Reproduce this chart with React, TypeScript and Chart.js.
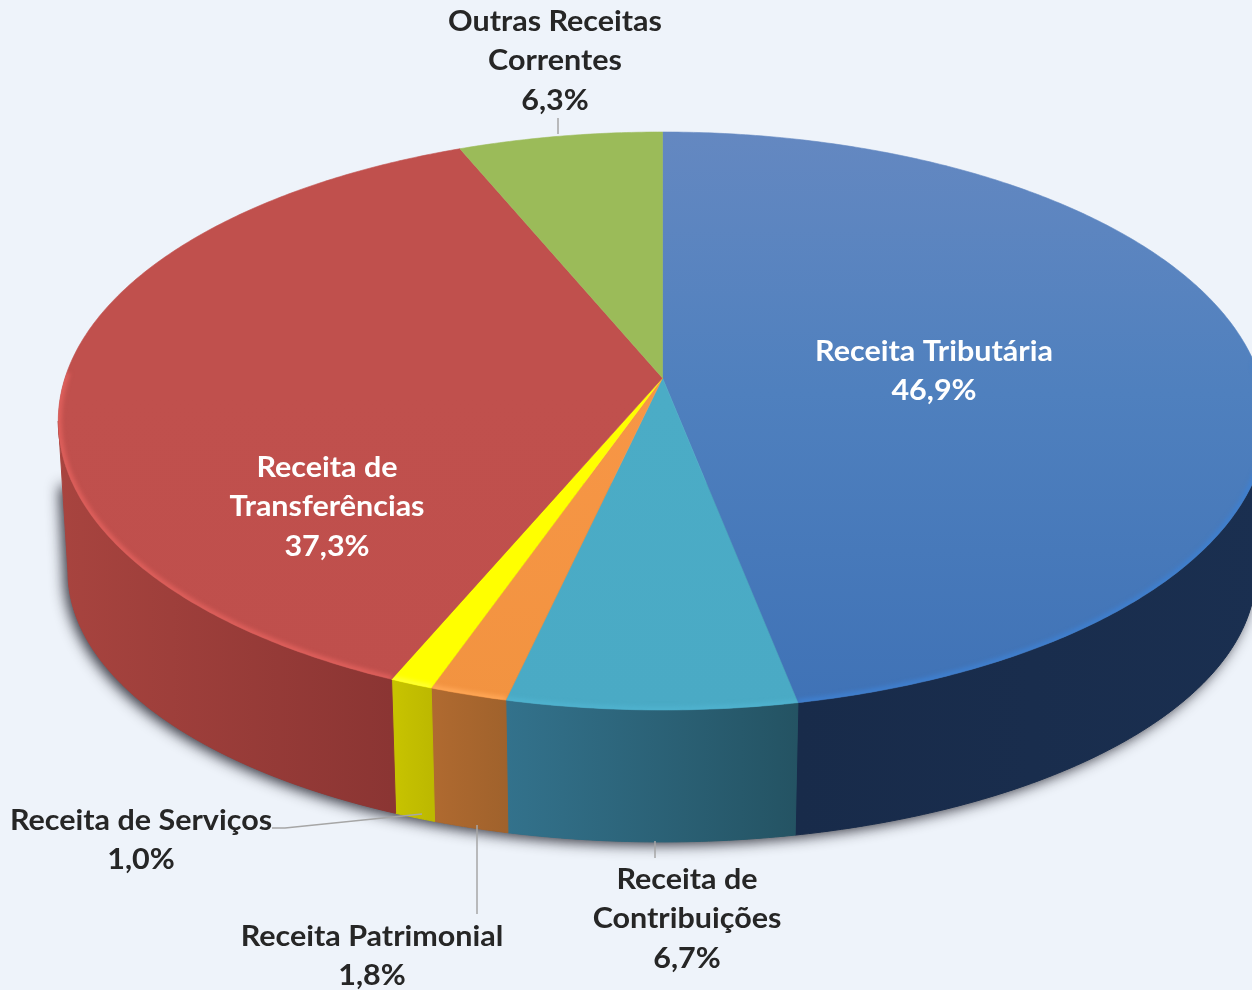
import React, { useEffect, useRef } from "react";
import { Chart, registerables } from "chart.js";

Chart.register(...registerables);

const categories = ["Receita Tributária", "Receita de Contribuições", "Receita Patrimonial", "Receita de Serviços", "Receita de Transferências", "Outras Receitas Correntes"];
const shares = [46.9, 6.7, 1.8, 1.0, 37.3, 6.3];
const labelLines = [
  ["Receita Tributária"],
  ["Receita de", "Contribuições"],
  ["Receita Patrimonial"],
  ["Receita de Serviços"],
  ["Receita de", "Transferências"],
  ["Outras Receitas", "Correntes"],
];
const labelCentres = [[934, 352], [687, 880], [372, 937], [141, 821], [327, 468], [555, 22]];
const labelColours = ["#ffffff", "#262626", "#262626", "#262626", "#ffffff", "#262626"];
const topColours = [["#6488c1", "#4f80be", "#3f72b6"], ["#4bacc6", "#4bacc6", "#4aaac5"], ["#f79646", "#f79646", "#f29340"], ["#ffff00", "#ffff00", "#ffff00"], ["#c0504d", "#c0504d", "#bf4f4c"], ["#9bbb59", "#9bbb59", "#9bbb59"]];
const sideColours = [["#1a2f50", "#182b4a"], ["#33728c", "#245363"], ["#b06a30", "#a0622c"], ["#c8c400", "#bdb900"], ["#a8443f", "#8b3533"], ["#76903f", "#76903f"]];
const rimColours = ["#3f7fce", "#4fb2ce", "#ffa655", "#ffff33", "#de5f5b", "#9bbb59"];
const leaders = [[[558, 118], [558, 134]], [[655, 841], [655, 858]], [[477, 825], [477, 914]], [[272, 828], [285, 828], [422, 814]]];
const BACKGROUND = "#eef3fa";
const K = 0.1488;
const TOP = { x0: 662.5, a: 597.5, y0: 378, b: 282.6 };
const BOTTOM = { x0: 662, a: 587.4, y0: 531.8, b: 264 };
const FRONT_START = Math.asin(K);
const FRONT_END = Math.PI - FRONT_START;

type Face = { x0: number; a: number; y0: number; b: number };
const project = (t: number, f: Face) => {
  const u = Math.cos(t), v = Math.sin(t), w = 1 - K * v;
  return [f.x0 + (f.a * u) / w, f.y0 + (f.b * v) / w];
};
const arcPoints = (from: number, to: number, f: Face) => {
  const n = Math.max(2, Math.ceil((to - from) / 0.01));
  const pts: number[][] = [];
  for (let i = 0; i <= n; i++) pts.push(project(from + ((to - from) * i) / n, f));
  return pts;
};
const trace = (ctx: CanvasRenderingContext2D, pts: number[][]) => {
  pts.forEach((p, i) => (i ? ctx.lineTo(p[0], p[1]) : ctx.moveTo(p[0], p[1])));
};

const pie3d = {
  id: "pie3d",
  beforeDatasetsDraw(chart: any) {
    const ctx: CanvasRenderingContext2D = chart.ctx;
    const arcs = chart.getDatasetMeta(0).data;

    // soft ground shadow below the front of the wall, fading out up the left side
    ctx.save();
    ctx.shadowColor = "rgba(20,20,30,0.85)";
    ctx.shadowBlur = 14;
    ctx.shadowOffsetX = -4;
    ctx.shadowOffsetY = 3;
    ctx.fillStyle = "#555";
    ctx.beginPath();
    trace(ctx, arcPoints(FRONT_START, FRONT_END, BOTTOM));
    const [lx, ly] = project(FRONT_END, TOP);
    const [rx, ry] = project(FRONT_START, TOP);
    ctx.lineTo(lx + 5, ly + 62);
    ctx.lineTo(rx - 5, ry + 62);
    ctx.closePath();
    ctx.fill();
    ctx.restore();

    // walls: only the part of each slice that faces the viewer
    arcs.forEach((arc: any, i: number) => {
      const from = Math.max(arc.startAngle, FRONT_START);
      const to = Math.min(arc.endAngle, FRONT_END);
      if (to <= from) return;
      const top = arcPoints(from, to, TOP);
      const bot = arcPoints(from, to, BOTTOM);
      const xs = top.map((p) => p[0]);
      const g = ctx.createLinearGradient(Math.min(...xs), 0, Math.max(...xs), 0);
      const flip = i === 0;
      g.addColorStop(0, sideColours[i][flip ? 1 : 0]);
      g.addColorStop(1, sideColours[i][flip ? 0 : 1]);
      ctx.fillStyle = g;
      ctx.strokeStyle = g;
      ctx.lineWidth = 1;
      ctx.beginPath();
      trace(ctx, top);
      bot.reverse().forEach((p) => ctx.lineTo(p[0], p[1]));
      ctx.closePath();
      ctx.fill();
      ctx.stroke();
    });

    // top faces
    arcs.forEach((arc: any, i: number) => {
      const edge = arcPoints(arc.startAngle, arc.endAngle, TOP);
      const g = ctx.createLinearGradient(0, 132, 0, 710);
      g.addColorStop(0, topColours[i][0]);
      g.addColorStop(0.45, topColours[i][1]);
      g.addColorStop(1, topColours[i][2]);
      ctx.save();
      ctx.beginPath();
      ctx.moveTo(TOP.x0, TOP.y0);
      edge.forEach((p) => ctx.lineTo(p[0], p[1]));
      ctx.closePath();
      ctx.fillStyle = g;
      ctx.strokeStyle = g;
      ctx.lineWidth = 0.6;
      ctx.fill();
      ctx.stroke();
      ctx.clip();
      const front0 = Math.max(arc.startAngle, -0.05);
      const front1 = Math.min(arc.endAngle, Math.PI + 0.02);
      if (front1 > front0) {
        ctx.filter = "blur(2px)";
        ctx.strokeStyle = rimColours[i];
        ctx.lineWidth = 7;
        ctx.beginPath();
        trace(ctx, arcPoints(front0, front1, TOP));
        ctx.stroke();
      }
      ctx.restore();
    });
    return false;
  },
  afterDraw(chart: any) {
    const ctx: CanvasRenderingContext2D = chart.ctx;
    ctx.save();
    ctx.strokeStyle = "#a6a6a6";
    ctx.lineWidth = 1.5;
    leaders.forEach((line) => {
      ctx.beginPath();
      trace(ctx, line);
      ctx.stroke();
    });
    ctx.font = "bold 28.5px Lato";
    ctx.textAlign = "center";
    ctx.textBaseline = "middle";
    categories.forEach((_, i) => {
      const lines = [...labelLines[i], shares[i].toFixed(1).replace(".", ",") + "%"];
      ctx.fillStyle = labelColours[i];
      lines.forEach((t, j) => {
        ctx.save();
        ctx.translate(labelCentres[i][0], labelCentres[i][1] + j * 39.3);
        ctx.scale(1.07, 1);
        ctx.fillText(t, 0, 0);
        ctx.restore();
      });
    });
    ctx.restore();
  },
};

export default function App() {
  const ref = useRef<HTMLCanvasElement>(null);
  useEffect(() => {
    document.body.style.margin = "0";
    document.body.style.background = BACKGROUND;
    const chart = new Chart(ref.current!, {
      type: "pie",
      data: {
        labels: categories,
        datasets: [{ data: shares, backgroundColor: "transparent", borderWidth: 0 }],
      },
      options: {
        responsive: false,
        animation: false,
        events: [],
        layout: { padding: 0 },
        plugins: { legend: { display: false }, tooltip: { enabled: false } },
      },
      plugins: [pie3d],
    } as any);
    return () => chart.destroy();
  }, []);
  return <canvas ref={ref} width={1252} height={990} style={{ display: "block", background: BACKGROUND }} />;
}
